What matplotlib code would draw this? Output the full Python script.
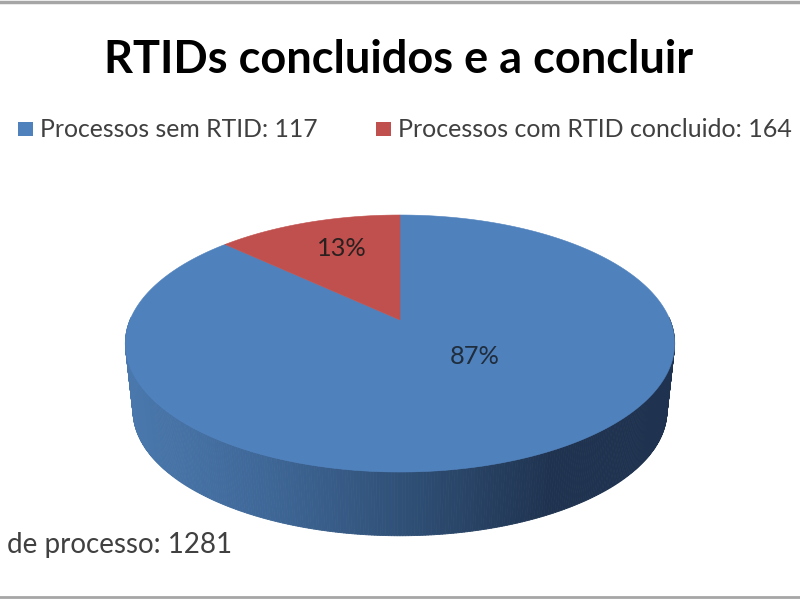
# Pizza "3D" no estilo Excel: projeto um circulo em perspectiva, assim as fatias
# saem direto das porcentagens e o vertice fica acima do centro da elipse.
import numpy as np
import matplotlib
matplotlib.use("Agg")
import matplotlib.pyplot as plt
from matplotlib.collections import PolyCollection
from matplotlib.colors import LinearSegmentedColormap

TITLE = "RTIDs concluidos e a concluir"
LEGEND_LABELS = ["Processos sem RTID: 117", "Processos com RTID concluido: 164"]
CUT_LABEL = "de processo: 1281"
SHARES = [87, 13]
COLORS = ["#4f81bd", "#c0504d"]

K = 0.183      # forca da perspectiva
R = 270.0
H = 124.2
CX, CY = 400.0, 320.0
DROP = 68.0    # deslocamento da borda de baixo
SHRINK = 0.972

plt.rcParams["font.family"] = ["Lato", "DejaVu Sans"]


def project(theta, scale=1.0, dy=0.0):
    # theta em radianos, 0 no topo, sentido horario
    u, v = np.sin(theta), np.cos(theta)
    w = 1 + K * v
    return CX + scale * R * u / w, CY + dy + scale * H * (-v) / w


fig = plt.figure(figsize=(8, 6), dpi=100)
ax = fig.add_axes([0, 0, 1, 1])
ax.set_xlim(0, 800)
ax.set_ylim(600, 0)
ax.axis("off")

# lateral com degrade, so a parte da frente
side_cmap = LinearSegmentedColormap.from_list(
    "lado", [(0, "#4a78ad"), (0.25, "#3f6898"), (0.52, "#2f4f75"),
             (0.78, "#1f3350"), (1, "#1f3350")])
t_side = np.linspace(np.pi / 2 - 0.02, 3 * np.pi / 2 + 0.02, 361)
x_top, y_top = project(t_side)
x_bot, y_bot = project(t_side, SHRINK, DROP)
quads, shade = [], []
for i in range(len(t_side) - 1):
    quads.append([(x_top[i], y_top[i]), (x_top[i + 1], y_top[i + 1]),
                  (x_bot[i + 1], y_bot[i + 1]), (x_bot[i], y_bot[i])])
    shade.append(side_cmap((x_top[i] - 125) / 550))
ax.add_collection(PolyCollection(quads, facecolors=shade, edgecolors=shade,
                                 linewidths=0.6, zorder=1))

# fatias: a vermelha termina no topo, a azul comeca nele
fracs = np.array(SHARES) / sum(SHARES)
starts = [0.0, 2 * np.pi * fracs[0]]
for share, frac, start, color in zip(SHARES, fracs, starts, COLORS):
    t = np.linspace(start, start + 2 * np.pi * frac, 300)
    x, y = project(t)
    ax.fill(np.r_[CX, x], np.r_[CY, y], color=color, lw=0.4, zorder=2)

ax.text(475, 357, f"{SHARES[0]}%", fontsize=18.3, color="#1f2d3d",
        ha="center", va="center", zorder=3)
ax.text(342, 248, f"{SHARES[1]}%", fontsize=18.3, color="#2b2020",
        ha="center", va="center", zorder=3)

ax.text(399, 73, TITLE, fontsize=32.5, fontweight="bold", color="black",
        ha="center", va="baseline")

# legenda na mao, ela esta cortada no original
sizes = [17.8, 18.0]
for x0, x_text, label, color, size in zip([18, 376], [40, 398], LEGEND_LABELS, COLORS, sizes):
    ax.fill_between([x0, x0 + 15], 122, 136, color=color, lw=0)
    ax.text(x_text, 137, label, fontsize=size, color="#404040",
            ha="left", va="baseline")
ax.text(7, 553, CUT_LABEL, fontsize=20, color="#404040", ha="left", va="baseline")

# moldura cinza, so aparece em cima e embaixo
ax.plot([0, 800], [2, 2], color="#a6a6a6", lw=2.5)
ax.plot([0, 800], [597, 597], color="#a6a6a6", lw=2)

fig.savefig("out.png", dpi=100)
